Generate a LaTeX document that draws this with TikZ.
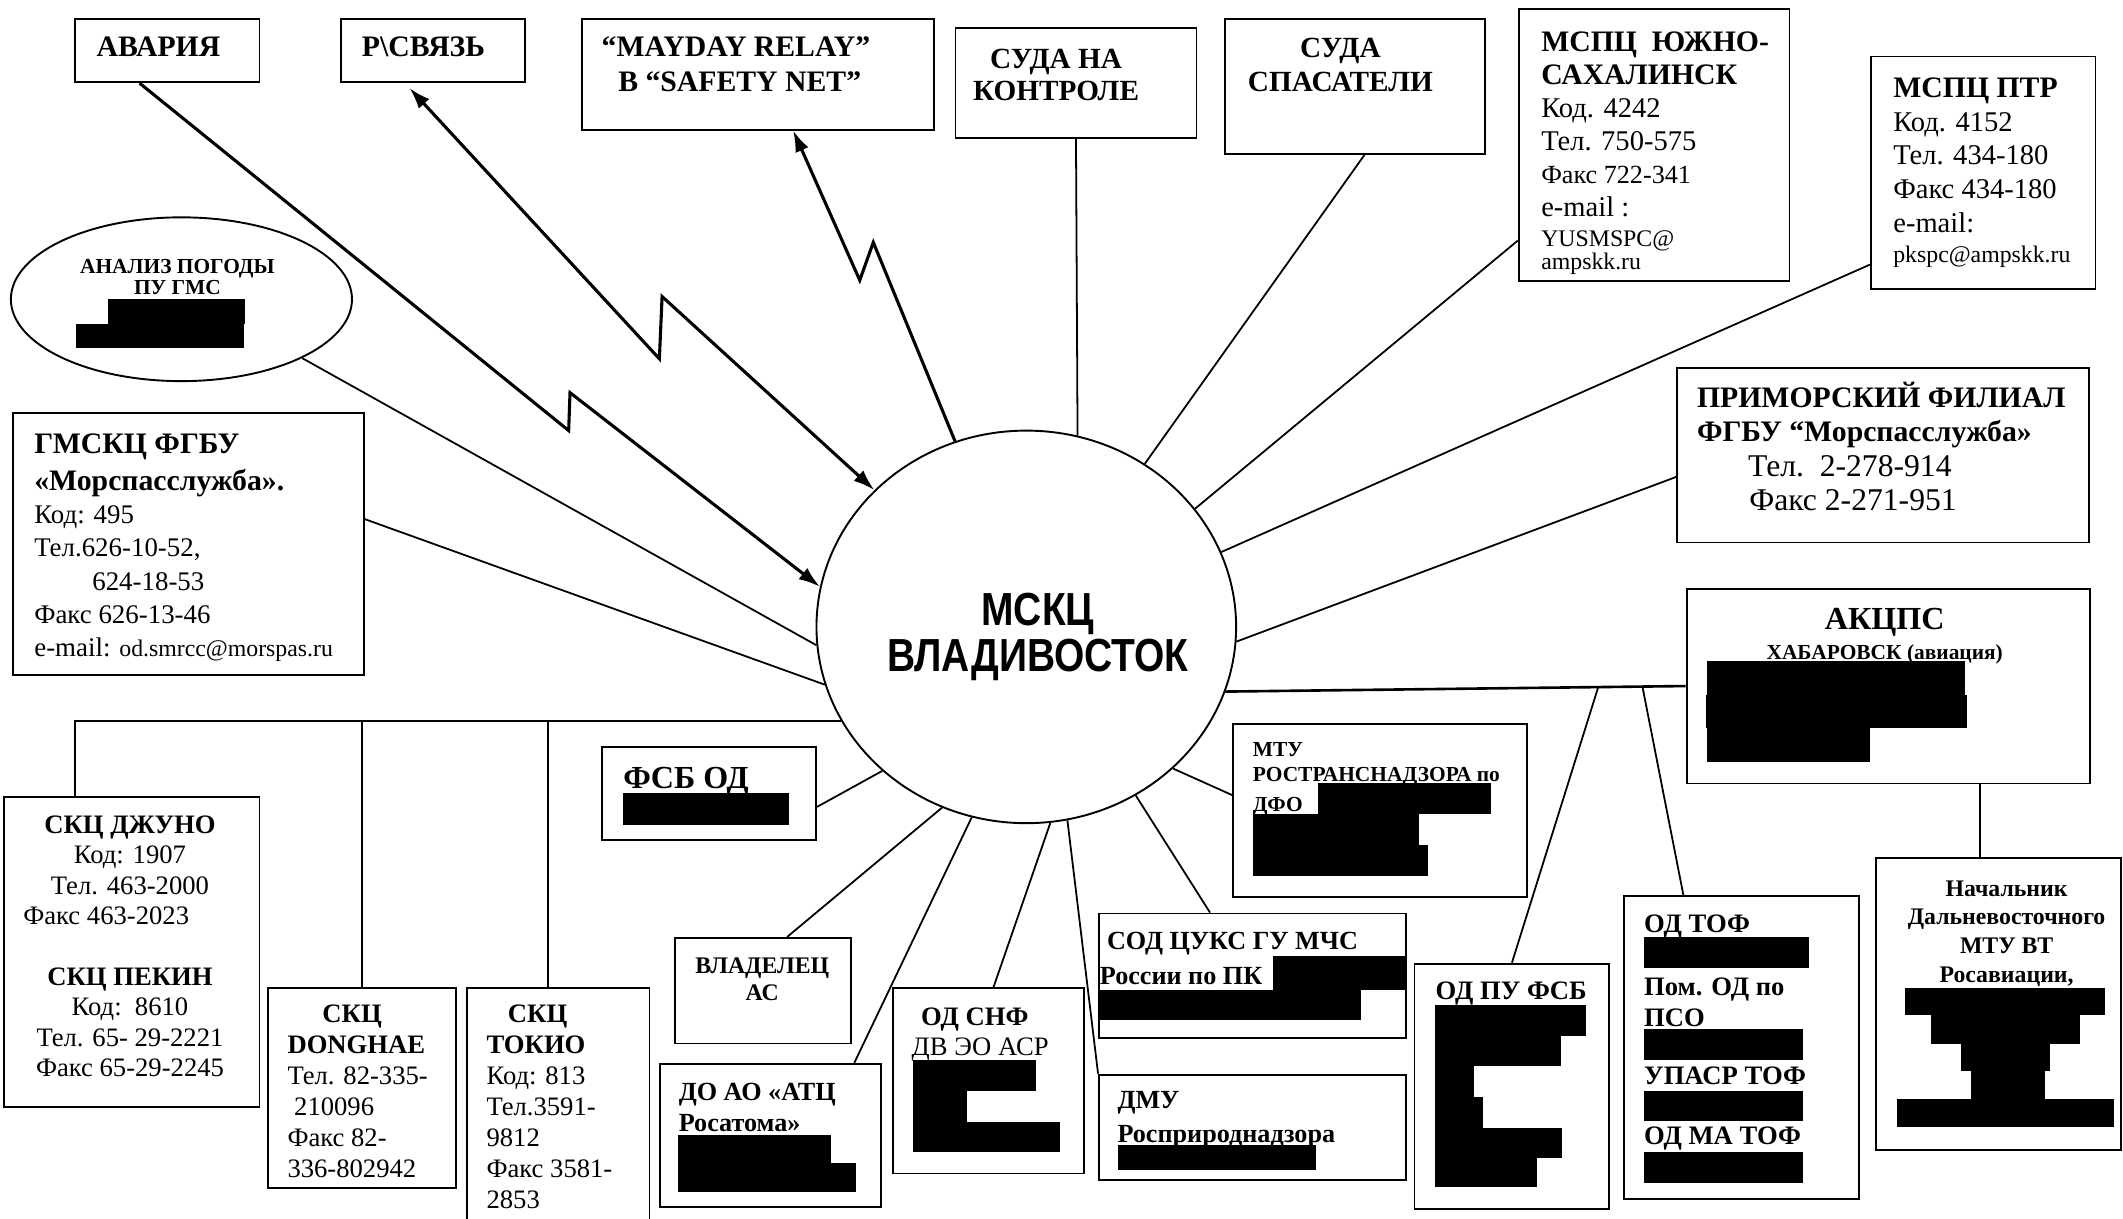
\documentclass[tikz,border=0pt]{standalone}
\usepackage{fontspec}
\setmainfont{Liberation Serif}
\newfontfamily\centrefont{Liberation Sans}[FakeStretch=0.84]
\usetikzlibrary{arrows.meta}
\usetikzlibrary{calc}
\usetikzlibrary{shapes.geometric}
\newcommand\fsz[2]{\fontsize{#1}{#2}\selectfont}

\begin{document}
\begin{tikzpicture}[x=0.02cm, y=-0.02cm,
    box/.style={draw, line width=0.8pt, anchor=north west, inner sep=0pt},
    oval/.style={draw, ellipse, line width=0.8pt, inner sep=0pt},
    txt/.style={inner sep=0pt, anchor=north west, align=left},
    ctxt/.style={inner sep=0pt, anchor=north, align=center},
    link/.style={line width=0.75pt},
    radio/.style={line width=1.3pt},
    tip/.style={-{Latex[length=9pt, width=6pt]}},
    redact/.style={fill=black}]
    \useasboundingbox (0, 0) rectangle (1568, 900);
    \fill [white] (0, 0) rectangle (1568, 900);

    % top row
    \node [box, minimum width=2.72cm, minimum height=0.93cm] (avaria) at (55, 13.5) {};
    \node [txt, font=\fsz{12.5}{14.7}\bfseries] (avaria-t) at (71, 27) {АВАРИЯ};
    \node [box, minimum width=2.72cm, minimum height=0.93cm] (svyaz) at (251, 13.5) {};
    \node [txt, font=\fsz{12.5}{14.7}\bfseries] (svyaz-t) at (267, 27) {Р\textbackslash СВЯЗЬ};
    \node [box, minimum width=5.2cm, minimum height=1.63cm] (mayday) at (429, 13.5) {};
    \node [txt, font=\fsz{12.5}{14.7}\bfseries] (mayday-t) at (444, 27) {“MAYDAY RELAY”\\\hspace*{7pt}В “SAFETY NET”};
    \node [box, minimum width=3.56cm, minimum height=1.62cm] (sudak) at (705, 20) {};
    \node [ctxt, font=\fsz{12.3}{13.6}\bfseries] (sudak-t) at (780, 36) {СУДА НА\\КОНТРОЛЕ};
    \node [box, minimum width=3.84cm, minimum height=1.99cm] (spas) at (904, 13.5) {};
    \node [ctxt, font=\fsz{12.3}{14.2}\bfseries] (spas-t) at (990, 28) {СУДА\\СПАСАТЕЛИ};
    \node [box, minimum width=4cm, minimum height=4.02cm] (yuzhno) at (1121, 6) {};
    \node [txt, font=\fsz{12}{13.9}] (yuzhno-t) at (1138, 23) {{\fsz{12.5}{13.9}\bfseries МСПЦ\ \ ЮЖНО-}\\{\fsz{12.5}{13.9}\bfseries САХАЛИНСК}\\Код. 4242\\Тел. 750-575\\{\fsz{11}{13.9}Факс 722-341}\\e-mail :\\[-1.2pt]{\fsz{10}{13.9}YUSMSPC@}\\[-4.3pt]{\fsz{10}{13.9}ampskk.ru}};
    \node [box, minimum width=3.32cm, minimum height=3.44cm] (ptr) at (1381, 41) {};
    \node [txt, font=\fsz{12}{14.2}] (ptr-t) at (1398, 57) {{\fsz{12.5}{14.2}\bfseries МСПЦ ПТР}\\Код. 4152\\Тел. 434-180\\Факс 434-180\\e-mail:\\[-1.5pt]{\fsz{10}{14.2}pkspc@ampskk.ru}};

    % left side
    \node [oval, minimum width=5.04cm, minimum height=2.42cm] (analiz) at (134, 221) {};
    \node [ctxt, font=\fsz{9}{9.1}\bfseries] (analiz-t) at (131, 191) {АНАЛИЗ ПОГОДЫ\\ПУ ГМС};
    \fill [redact] (80, 221) rectangle (181, 239);
    \fill [redact] (56, 239) rectangle (180, 257);
    \node [box, minimum width=5.18cm, minimum height=3.88cm] (gmsc) at (9, 304) {};
    \node [txt, font=\fsz{11.3}{14}] (gmsc-t) at (25, 320) {{\fsz{12.5}{14}\bfseries ГМСКЦ ФГБУ}\\[1.5pt]{\fsz{12.5}{14}\bfseries «Морспасслужба».}\\Код: 495\\Тел.626-10-52,\\\hspace*{24.4pt}624-18-53\\Факс 626-13-46\\e-mail: {\fsz{10}{14}od.smrcc@morspas.ru}};

    % centre
    \node [oval, minimum width=6.2cm, minimum height=5.8cm] (mskc) at (758, 463) {};
    \node [ctxt, font=\centrefont\fsz{19.5}{19.3}\bfseries] (mskc-t) at (766.6, 438) {МСКЦ\\ВЛАДИВОСТОК};

    % right side
    \node [box, minimum width=6.08cm, minimum height=2.58cm] (primorsky) at (1238, 271) {};
    \node [txt, font=\fsz{13.3}{14.45}] (primorsky-t) at (1253, 282) {{\fsz{12.5}{14.45}\bfseries ПРИМОРСКИЙ ФИЛИАЛ}\\{\fsz{12.5}{14.45}\bfseries ФГБУ “Морспасслужба»}\\\hspace*{21.5pt}Тел.\ \ 2-278-914\\\hspace*{22pt}Факс 2-271-951};
    \node [box, minimum width=5.96cm, minimum height=2.88cm] (akcps) at (1245, 434) {};
    \node [ctxt, font=\fsz{9}{12.4}\bfseries] (akcps-t) at (1392, 449) {{\fsz{13.5}{12.4}\bfseries АКЦПС}\\ХАБАРОВСК (авиация)};
    \fill [redact] (1261, 488) rectangle (1451, 513);
    \fill [redact] (1260, 513) rectangle (1453, 538);
    \fill [redact] (1261, 538) rectangle (1381, 563);

    % bottom row
    \node [box, minimum width=3.78cm, minimum height=4.58cm] (dzhuno) at (2, 588) {};
    \node [ctxt, font=\fsz{11.2}{12.8}] (dzhuno-t) at (96, 602) {{\bfseries СКЦ ДЖУНО}\\Код: 1907\\Тел. 463-2000\\Факс 463-2023\hspace*{20pt}\null\\[12.8pt]{\bfseries СКЦ ПЕКИН}\\Код:\ \ 8610\\Тел. 65- 29-2221\\Факс 65-29-2245};
    \node [box, minimum width=2.78cm, minimum height=2.96cm] (donghae) at (197, 729) {};
    \node [txt, font=\fsz{11.2}{13}] (donghae-t) at (212, 742) {\hspace*{14.7pt}{\bfseries СКЦ}\\{\bfseries DONGHAE}\\Тел. 82-335-\\\hspace*{2.8pt}210096\\Факс 82-\\336-802942};
    \node [box, minimum width=2.7cm, minimum height=3.62cm] (tokio) at (344, 729) {};
    \node [txt, font=\fsz{11.2}{13}] (tokio-t) at (359, 742) {\hspace*{9pt}{\bfseries СКЦ}\\{\bfseries ТОКИО}\\Код: 813\\Тел.3591-\\9812\\Факс 3581-\\2853};
    \node [box, minimum width=3.16cm, minimum height=1.38cm] (fsb) at (444, 551) {};
    \node [txt, font=\fsz{13.5}{14}\bfseries] (fsb-t) at (460, 566) {ФСБ ОД};
    \fill [redact] (460, 586) rectangle (583, 609);
    \node [box, minimum width=2.6cm, minimum height=1.56cm] (vlad) at (498, 692) {};
    \node [ctxt, font=\fsz{10}{11.3}\bfseries] (vlad-t) at (563, 707) {ВЛАДЕЛЕЦ\\АС};
    \node [box, minimum width=3.26cm, minimum height=2.12cm] (doao) at (487, 785) {};
    \node [txt, font=\fsz{11}{13}\bfseries] (doao-t) at (501, 800) {ДО АО «АТЦ\\Росатома»};
    \fill [redact] (501, 838) rectangle (614, 859);
    \fill [redact] (501, 859) rectangle (632, 880);
    \node [box, minimum width=2.82cm, minimum height=2.74cm] (odsnf) at (659, 729) {};
    \node [txt, font=\fsz{11.2}{12.5}] (odsnf-t) at (673, 744) {\hspace*{4pt}{\bfseries ОД СНФ}\\ДВ ЭО АСР};
    \fill [redact] (674, 783) rectangle (765, 806);
    \fill [redact] (674, 806) rectangle (714, 829);
    \fill [redact] (674, 829) rectangle (783, 851);
    \node [box, minimum width=4.34cm, minimum height=2.56cm] (mtu) at (910, 534) {};
    \node [txt, font=\fsz{9}{10.5}\bfseries] (mtu-t) at (925, 548) {МТУ\\РОСТРАНСНАДЗОРА по\\[2.1pt]ДФО};
    \fill [redact] (973.5, 578.4) rectangle (1101, 601);
    \fill [redact] (925.5, 601) rectangle (1048, 624);
    \fill [redact] (925.5, 624) rectangle (1055, 647);
    \node [box, minimum width=4.54cm, minimum height=1.84cm] (sod) at (811, 674) {};
    \node [txt, font=\fsz{11}{14.7}\bfseries] (sod-t) at (812, 688) {\hspace*{3pt}СОД ЦУКС ГУ МЧС\\России по ПК};
    \fill [redact] (940, 706) rectangle (1038, 731);
    \fill [redact] (812, 731) rectangle (1005, 753);
    \node [box, minimum width=4.54cm, minimum height=1.56cm] (dmu) at (811, 793) {};
    \node [txt, font=\fsz{11}{14.2}\bfseries] (dmu-t) at (825, 806) {ДМУ\\Росприроднадзора};
    \fill [redact] (826, 846) rectangle (972, 864);
    \node [box, minimum width=2.88cm, minimum height=3.62cm] (odpu) at (1044, 711) {};
    \node [txt, font=\fsz{11.2}{13}\bfseries] (odpu-t) at (1060, 725) {ОД ПУ ФСБ};
    \fill [redact] (1060, 742) rectangle (1171, 765);
    \fill [redact] (1060, 765) rectangle (1153, 787);
    \fill [redact] (1060, 787) rectangle (1089, 810);
    \fill [redact] (1060, 810) rectangle (1095, 833);
    \fill [redact] (1060, 833) rectangle (1154, 855);
    \fill [redact] (1060, 855) rectangle (1135, 877);
    \node [box, minimum width=3.46cm, minimum height=4.48cm] (odtof) at (1199, 661) {};
    \node [txt, font=\fsz{11.2}{13}\bfseries] (odtof-t) at (1214, 675) {ОД ТОФ\\[13.6pt]Пом. ОД по\\ПСО\\[11.4pt]УПАСР ТОФ\\[12.5pt]ОД МА ТОФ};
    \fill [redact] (1214, 692) rectangle (1336, 715);
    \fill [redact] (1214, 760) rectangle (1332, 783);
    \fill [redact] (1214, 806) rectangle (1332, 828);
    \fill [redact] (1214, 851) rectangle (1332, 874);
    \node [box, minimum width=3.62cm, minimum height=4.32cm] (nach) at (1385, 633) {};
    \node [ctxt, font=\fsz{10}{12.1}\bfseries] (nach-t) at (1482, 650) {Начальник\\Дальневосточного\\МТУ ВТ\\Росавиации,};
    \fill [redact] (1407, 730) rectangle (1555, 750);
    \fill [redact] (1426, 750) rectangle (1536, 771);
    \fill [redact] (1448, 771) rectangle (1514, 791);
    \fill [redact] (1456, 791) rectangle (1510, 812);
    \fill [redact] (1401, 812) rectangle (1561, 832);

    % radio links
    \draw [radio, tip] ($(avaria.south west)!0.35!(avaria.south east)$) -- (420, 318) -- (421, 290) -- (mskc.169.4);
    \draw [radio, {Latex[length=9pt, width=6pt]}-{Latex[length=9pt, width=6pt]}, shorten <=2.8pt] ($(svyaz.south west)!0.35!(svyaz.south east)$) -- (487, 265) -- (489, 219) -- (mskc.138.7);
    \draw [radio, tip] (mskc.111) -- (645, 179) -- (635, 207) -- ($(mayday.south west)!0.6!(mayday.south east)$);

    % plain links
    \draw [link] (sudak.south) -- (mskc.75.7);
    \draw [link] (spas.-82) -- (mskc.54.1);
    \draw [link] (yuzhno.215.6) -- (mskc.35.5);
    \draw [link] (ptr.219.7) -- (mskc.21.5);
    \draw [link] (primorsky.186.9) -- (mskc.-4.8);
    \draw [link] (analiz.-26.6) -- (mskc.185.5);
    \draw [link] (gmsc.8.8) -- (mskc.196.6);
    \draw [link] (fsb.-7.6) -- (mskc.-135.5);
    \draw [link] (vlad.66) -- (mskc.-115.5);
    \draw [link] (doao.41.7) -- (mskc.-106.4);
    \draw [link] (odsnf.87) -- (mskc.-83.7);
    \draw [link] (dmu.north west) -- (mskc.-78.8);
    \draw [link] (sod.124.4) -- (mskc.-57.4);
    \draw [link] (mtu.174.3) -- (mskc.-44);

    % bus to the rescue centres
    \draw [link] (mskc.207.7) -| ($(dzhuno.north west)!0.28!(dzhuno.north east)$);
    \draw [link] (donghae.north) -- (donghae.north |- mskc.207.7);
    \draw [link] ($(tokio.north west)!0.444!(tokio.north east)$) coordinate (t1) -- (t1 |- mskc.207.7);

    % aviation branch
    \draw [line width=1.1pt] (mskc.-18) -- (akcps.west);
    \draw [link] ($(mskc.-18)!0.81!(akcps.west)$) -- (odpu.north);
    \draw [link] ($(mskc.-18)!0.906!(akcps.west)$) -- ($(odtof.north west)!0.254!(odtof.north east)$);
    \draw [link] ($(nach.north west)!0.425!(nach.north east)$) coordinate (n1) -- (n1 |- akcps.south);
\end{tikzpicture}
\end{document}
